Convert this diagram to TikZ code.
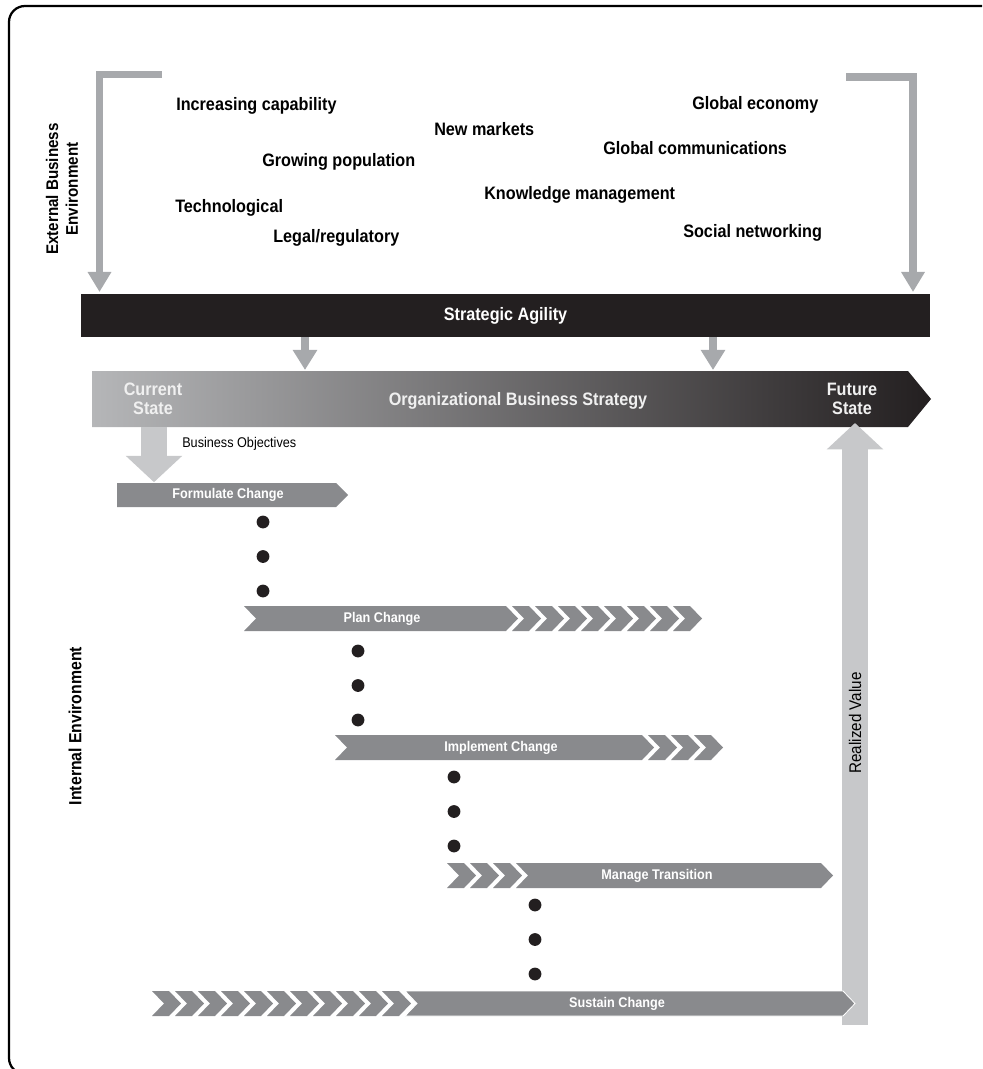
\documentclass[tikz,border=0pt]{standalone}
\usepackage{fontspec}
\setmainfont{Liberation Sans}[FakeStretch=0.9]
\usetikzlibrary{arrows.meta}

\definecolor{inkblack}{HTML}{231F20}
\definecolor{bracketgray}{HTML}{A7A9AC}
\definecolor{palegray}{HTML}{C7C8CA}
\definecolor{bargray}{HTML}{898A8D}
\definecolor{stratlight}{HTML}{B5B6B8}
\definecolor{stratmid}{HTML}{8B8C8F}
\definecolor{statetext}{HTML}{F0F0F0}

\begin{document}
\begin{tikzpicture}[x=0.025cm, y=-0.025cm,
  factor/.style={font=\fontsize{12.8}{14}\selectfont\bfseries, inner sep=0pt, anchor=base west},
  onbar/.style={font=\fontsize{10}{12}\selectfont\bfseries, text=white, inner sep=0pt, minimum height=0.625cm},
  state/.style={font=\fontsize{12.8}{13.4}\selectfont\bfseries, text=statetext, align=center, inner sep=0pt},
  side/.style={font=\fontsize{12}{14}\selectfont\bfseries, rotate=90, align=center, inner sep=0pt},
  bracket/.style={draw=bracketgray, line width=0.18cm, line join=miter, -{Triangle[length=0.5cm, width=0.56cm]}},
  drop/.style={draw=bracketgray, line width=0.2cm, -{Triangle[length=0.5cm, width=0.58cm]}},
  feed/.style={draw=palegray, line width=0.65cm, -{Triangle[length=0.66cm, width=1.375cm]}},
  chev/.pic={\fill[bargray] (0,0) -- (17,0) -- (29,12.5) -- (17,25) -- (0,25) -- (12,12.5) -- cycle;},
  dot/.style={circle, fill=inkblack, inner sep=0pt, minimum size=0.32cm}
]
\useasboundingbox (0,0) rectangle (982,1069);
\clip (0,0) rectangle (982,1069);
\draw [line width=1.6pt, rounded corners=0.4cm] (9,6) rectangle (1060,1074);

% external environment
\node [side] (external) at (62,189) {External Business\\Environment};
\node [factor] (capability) at (176,111) {Increasing capability};
\node [factor] (population) at (262,167) {Growing population};
\node [factor] (technology) at (175,213) {Technological};
\node [factor] (legal) at (273,243) {Legal/regulatory};
\node [factor] (markets) at (434,136) {New markets};
\node [factor] (knowledge) at (484,199.5) {Knowledge management};
\node [factor] (economy) at (692,109.5) {Global economy};
\node [factor] (communication) at (603,154.5) {Global communications};
\node [factor] (social) at (683,238) {Social networking};

\node [fill=inkblack, text=white, font=\fontsize{12.8}{14}\selectfont\bfseries, minimum width=21.225cm, minimum height=1.075cm, inner sep=0pt] (agility) at (505.5,315.5) {Strategic Agility};

\coordinate (lstart) at (162,74.5);
\coordinate (lend) at (99.5,292);
\coordinate (rstart) at (846,77);
\coordinate (rend) at (913,292);
\draw [bracket] (lstart) -| (lend);
\draw [bracket] (rstart) -| (rend);

% strategy
\shade [left color=stratlight, middle color=stratmid, right color=inkblack] (92,371) -- (908,371) -- (931,399) -- (908,427) -- (92,427) -- cycle;
\node [state] (current) at (153,399) {Current\\State};
\node [state] (strategy) at (518,401) {Organizational Business Strategy};
\node [state] (future) at (852,399) {Future\\State};

\coordinate (drop1) at (305,370);
\coordinate (drop2) at (713,370);
\draw [drop] (agility.south -| drop1) -- (drop1);
\draw [drop] (agility.south -| drop2) -- (drop2);

% internal environment
\node [side, font=\fontsize{12.5}{14}\selectfont\bfseries] (internal) at (75,726) {Internal Environment};

\coordinate (rvbase) at (855,1025);
\coordinate (rvtip) at (855,423);
\draw [feed] (rvbase) -- (rvtip);
\node [rotate=90, font=\fontsize{12}{14}\selectfont, inner sep=0pt] (realized) at (855,723) {Realized Value};

\fill [bargray] (117,483) -- (336,483) -- (348,495) -- (336,507) -- (117,507) -- cycle;
\node [onbar] (formulate) at (228,495) {Formulate Change};

\fill [bargray] (244,606) -- (506,606) -- (518,618.5) -- (506,631) -- (244,631) -- (256,618.5) -- cycle;
\foreach \k in {0,...,7} \pic at ({512+23*\k},606) {chev};
\node [onbar] (plan) at (382,618.5) {Plan Change};

\fill [bargray] (335,735) -- (642,735) -- (654,747.5) -- (642,760) -- (335,760) -- (347,747.5) -- cycle;
\foreach \k in {0,...,2} \pic at ({648+23*\k},735) {chev};
\node [onbar] (implement) at (501,747.5) {Implement Change};

\foreach \k in {0,...,2} \pic at ({447+23*\k},863) {chev};
\fill [bargray] (516,863) -- (821,863) -- (833,875.5) -- (821,888) -- (516,888) -- (528,875.5) -- cycle;
\node [onbar] (manage) at (657,875.5) {Manage Transition};

\foreach \k in {0,...,10} \pic at ({152+23*\k},991) {chev};
\filldraw [fill=bargray, draw=white, line width=0.6pt] (405,991) -- (843,991) -- (855,1003.5) -- (843,1016) -- (405,1016) -- (417,1003.5) -- cycle;
\node [onbar] (sustain) at (617,1003.5) {Sustain Change};

\coordinate (botop) at (154,427);
\draw [feed] (botop) -- (botop |- formulate.north);
\node [anchor=west, font=\fontsize{10}{12}\selectfont, inner sep=0pt] (objectives) at (182,444) {Business Objectives};

\foreach \x/\y [count=\i] in {263/522, 358/651, 454/777, 535/905}
  \foreach \k in {0,1,2}
    \node [dot] (dot\i\k) at (\x,{\y+34.5*\k}) {};
\end{tikzpicture}
\end{document}
